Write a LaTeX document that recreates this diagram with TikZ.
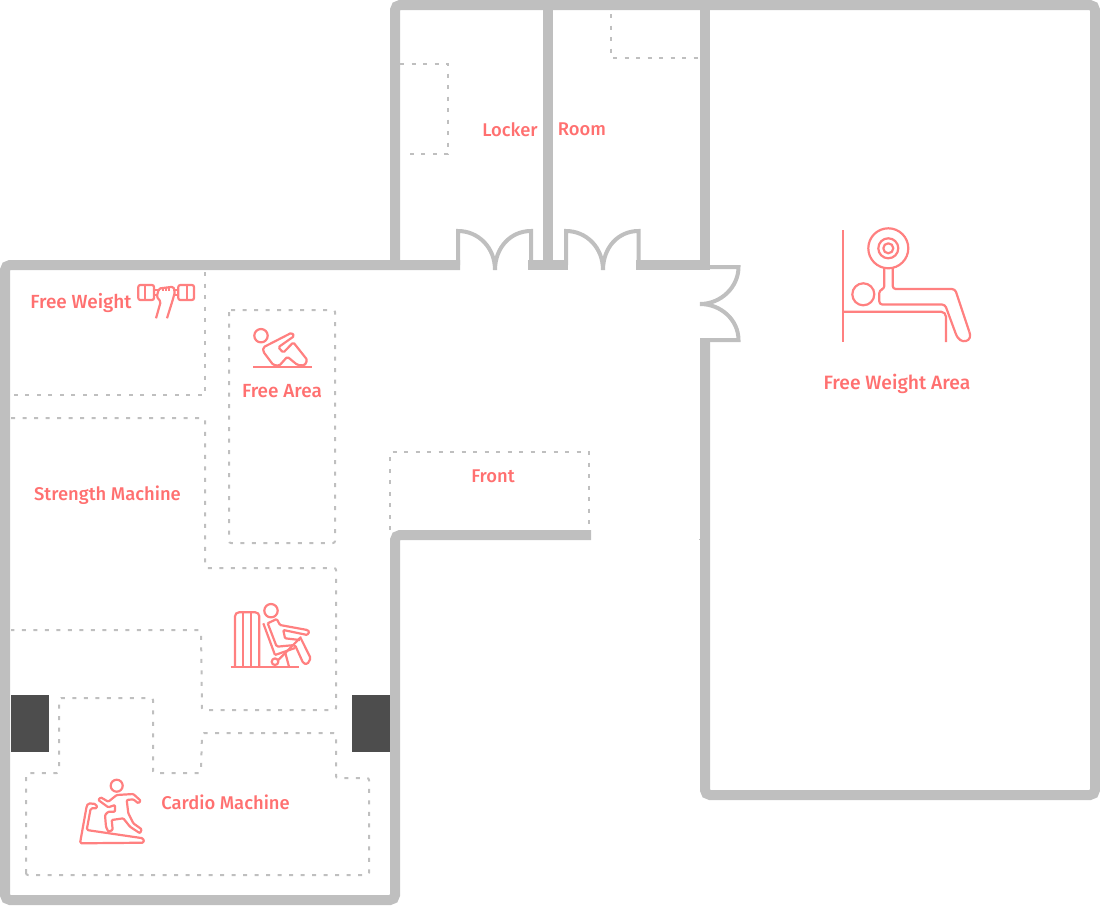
\documentclass[tikz,border=0pt]{standalone}
\usepackage{fontspec}
\setmainfont{Fira Sans Medium}
\definecolor{wallGray}{HTML}{BFBFBF}
\definecolor{pillarGray}{HTML}{4D4D4D}
\definecolor{labelRed}{HTML}{FF7070}
\definecolor{iconRed}{HTML}{FF8080}
\tikzset{
	wall/.style={draw=wallGray, line width=10pt, rounded corners=5pt},
	door/.style={draw=wallGray, line width=4pt},
	zone/.style={draw=wallGray, line width=2pt, dash pattern=on 4pt off 7.5pt},
	pillar/.style={fill=pillarGray},
	icon/.style={draw=iconRed, line width=2.2pt, line join=round},
	area/.style={text=labelRed, font=\fontsize{19}{21}\selectfont, inner sep=0pt},
	areaSmall/.style={area, font=\fontsize{18.4}{21}\selectfont}
}
\begin{document}
\begin{tikzpicture}[x=1pt, y=-1pt]
	\useasboundingbox (0,0) rectangle (1100,905);
	
	%Zonen
	\draw[zone] (205,272) -- (205,395) -- (11,395);
	\draw[zone, rounded corners=2pt] (229,310) rectangle (335,543);
	\draw[zone, rounded corners=2pt] (11,418) -- (205,418) -- (205,568) -- (336,568) -- (336,710) -- (202,710) -- (201,630) -- (11,630);
	\draw[zone, rounded corners=2pt] (26,875) -- (26,773) -- (59,773) -- (59,698) -- (153,698) -- (153,773) -- (201,773) -- (202,733) -- (336,733) -- (336,778) -- (369,778) -- (369,875) -- cycle;
	\draw[zone] (400,64) -- (448,64) -- (448,154) -- (403,154);
	\draw[zone] (611,14) -- (611,58) -- (700,58);
	\draw[zone] (390,530) -- (390,452) -- (589,452) -- (589,530);
	
	%Waende
	\draw[wall] (460,265) -- (5,265) -- (5,900) -- (395,900) -- (395,535) -- (591,535);
	\draw[wall] (395,265) -- (395,5) -- (1095,5) -- (1095,795) -- (705,795) -- (705,338);
	\draw[wall] (548,5) -- (548,265);
	\draw[wall] (705,5) -- (705,270);
	\draw[wall] (528,265) -- (568,265);
	\draw[wall] (636,265) -- (710,265);
	\draw[draw=wallGray, line width=1pt] (699,539) -- (701,539);
	
	%Tueren
	\draw[door] (458,265) -- (458,231) .. controls (478.4,231) and (495,247.6) .. (495,270);
	\draw[door] (531,265) -- (531,231) .. controls (510.6,231) and (495,247.6) .. (495,270);
	\draw[door] (566,265) -- (566,231) .. controls (586.4,231) and (603,247.6) .. (603,270);
	\draw[door] (638.5,265) -- (638.5,231) .. controls (618.1,231) and (603,247.6) .. (603,270);
	\draw[door] (708,267) -- (738.5,267) .. controls (738.5,287) and (721,304) .. (700,304);
	\draw[door] (708,340) -- (738.5,340) .. controls (738.5,320) and (721,304) .. (700,304);
	
	%Saeulen
	\fill[pillar] (11,695) rectangle (49,752);
	\fill[pillar] (352,695) rectangle (390,752);
	
	%Beschriftung
	\node[areaSmall] (locker) at (510,129.5) {Locker};
	\node[areaSmall] (room) at (582,129.5) {Room};
	\node[area] (freeWeight) at (81,302.5) {Free Weight};
	\node[area] (freeArea) at (282,391) {Free Area};
	\node[areaSmall] (strength) at (107.5,495.5) {Strength Machine};
	\node[areaSmall] (front) at (493,476) {Front};
	\node[areaSmall] (cardio) at (225.5,802.5) {Cardio Machine};
	\node[area, font=\fontsize{19.3}{21}\selectfont] (weightArea) at (897,384) {Free Weight Area};
	
	%Hantelbank
	\draw[icon] (843.3,230) -- (843.3,342);
	\draw[icon, rounded corners=5pt] (843.3,311.7) -- (946,311.7) -- (946,342);
	\draw[icon] (863.3,294.3) circle[radius=11];
	\draw[icon] (888.3,248.3) circle[radius=20];
	\draw[icon] (888.3,248.3) circle[radius=10];
	\draw[icon] (888.3,248.3) circle[radius=5];
	\draw[icon, rounded corners=3pt] (884.3,268) -- (884.3,289) -- (879.3,290) -- (879.3,304.5) -- (945,304.5) -- (955.5,333);
	\draw[icon] (955.5,333) .. controls (958,340) and (962,342) .. (966,341) .. controls (970,340) and (971,336) .. (969.3,331.7);
	\draw[icon, rounded corners=3pt] (969.3,331.7) -- (955,289) -- (892.7,289) -- (892.7,268);
	
	%Hantel
	\draw[icon, rounded corners=2pt] (138.3,285) rectangle (154,300);
	\draw[icon, rounded corners=2pt] (178.3,285) rectangle (194,300);
	\draw[icon] (145,285) -- (145,300);
	\draw[icon] (187,285) -- (187,300);
	\draw[icon] (154,290) -- (160,290);
	\draw[icon] (154,295) -- (157,295);
	\draw[icon] (173,290) -- (178.3,290);
	\draw[icon] (175,295) -- (178.3,295);
	\draw[icon, rounded corners=1.5pt] (156,318.3) -- (160.7,301.7) -- (156.7,296.7) -- (159,288.5) -- (173.3,286.7) -- (175,291.7) -- (172.7,300) -- (167,318.3);
	\draw[icon, line width=1.2pt] (163,287.5) -- (163,291);
	\draw[icon, line width=1.2pt] (166,287.5) -- (166,291);
	\draw[icon, line width=1.2pt] (169,287) -- (169,291);
	
	%Sit-up
	\draw[icon] (261,335.7) circle[radius=6.7];
	\draw[icon] (253.3,367.3) -- (311.7,367.3);
	\draw[icon, rounded corners=1.5pt] (263.3,347.3) -- (291.7,332.7) -- (294.3,336) -- (278.3,347.3) -- (283.3,352.7) -- (293.3,342.3) -- (307.3,360) -- (304.5,365.5) -- (297.5,365) -- (287.3,356.7) -- (279.3,365.7) -- (273.3,365) -- (263.3,351.7) -- cycle;
	
	%Kraftgeraet
	\draw[icon, rounded corners=4pt] (235,666.7) -- (235,612.3) -- (259.3,612.3) -- (259.3,666.7);
	\draw[icon] (242.7,612.3) -- (242.7,666.7);
	\draw[icon] (250.7,612.3) -- (250.7,666.7);
	\draw[icon] (230.7,667.3) -- (299.3,667.3);
	\draw[icon] (271,610.7) circle[radius=6.7];
	\draw[icon] (263.3,623.3) -- (275,655);
	\draw[icon, rounded corners=1pt] (267.7,623.3) -- (276.7,619) -- (280,625) -- (307.3,630) -- (309.3,631.7) -- (307.3,635) -- (283.3,630) -- (285,638.3) -- (300,640);
	\draw[icon, rounded corners=1.5pt] (300,636.7) -- (310.7,658.3) -- (307.3,664.3) -- (303.3,663.3) -- (295,645) -- (276.7,646.7) -- (267.7,623.3);
	\draw[icon] (275,655) -- (295,648);
	\draw[icon] (275,661.7) circle[radius=3.3];
	\draw[icon] (278.3,660) -- (300,638);
	\draw[icon] (285,651.7) -- (289,666.7);
	
	%Laufband
	\draw[icon] (116.7,785.7) circle[radius=6];
	\draw[icon, rounded corners=1.5pt] (80,843.3) -- (86.7,806) -- (88.3,803.3) -- (96,804) -- (97.3,808.3) -- (90.7,808.3) -- (86.7,830) -- (143.3,838.3) -- (144,842.7) -- cycle;
	\draw[icon, rounded corners=1pt] (98.3,800) -- (100.7,797.3) -- (108.3,801.7) -- (116.7,795) -- (133.3,794) -- (140.7,800.7) -- (138.3,803.3) -- (133.3,799.3) -- (126.7,800) -- (128.3,813.3) -- (133.3,823.3) -- (141.7,829.3) -- (140,833.3) -- (130,826.7) -- (123.3,818.3) -- (111.7,820) -- (112.7,830) -- (108.3,831.7) -- (106,826.7) -- (105,815) -- (108.3,811.7) -- (115,811.7) -- (115,805) -- (108.3,807.3) -- cycle;
\end{tikzpicture}
\end{document}
